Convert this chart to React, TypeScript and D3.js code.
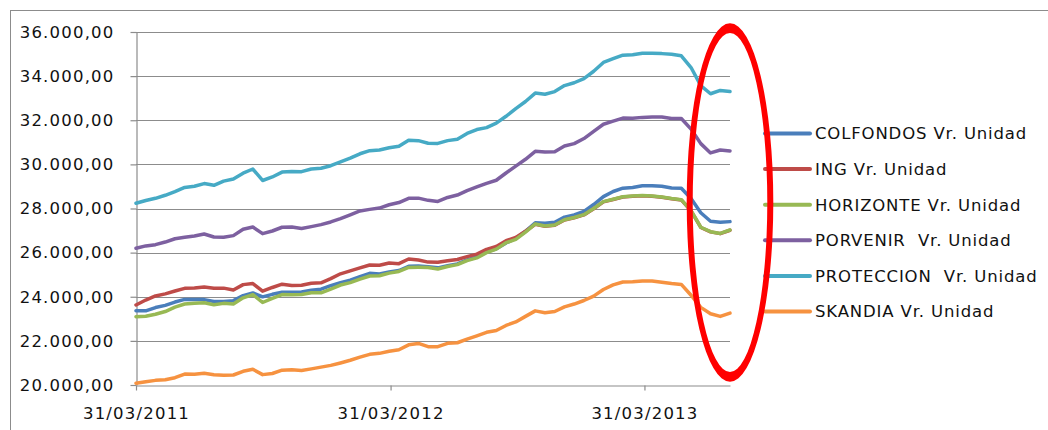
import { useEffect, useRef } from "react"
import * as d3 from "d3"

// one reading every 14 days starting 31/03/2011
const firstDate = "2011-03-31"
const stepDays = 14

const tickLabels = ["31/03/2011", "31/03/2012", "31/03/2013"]
const yTicks = [20000, 22000, 24000, 26000, 28000, 30000, 32000, 34000, 36000]

const seriesNames = [
    "COLFONDOS Vr. Unidad",
    "ING Vr. Unidad",
    "HORIZONTE Vr. Unidad",
    "PORVENIR  Vr. Unidad",
    "PROTECCION  Vr. Unidad",
    "SKANDIA Vr. Unidad",
]
const colors = ["#4a7ebb", "#be4b48", "#98b954", "#7d60a0", "#46aac5", "#f69240"]

const colfondos = [
    23370, 23360, 23510, 23610, 23760, 23880, 23870, 23870, 23785, 23790,
    23823, 24050, 24170, 23995, 24110, 24200, 24205, 24220, 24300, 24345,
    24500, 24640, 24750, 24910, 25060, 25030, 25120, 25190, 25380, 25394,
    25360, 25310, 25410, 25490, 25670, 25800, 26040, 26170, 26440, 26640,
    26970, 27350, 27328, 27380, 27610, 27710, 27870, 28180, 28540, 28770,
    28920, 28955, 29030, 29035, 29005, 28930, 28920, 28450, 27810, 27420,
    27375, 27405,
]
const ing = [
    23626, 23850, 24035, 24130, 24260, 24380, 24400, 24440, 24390, 24390,
    24306, 24550, 24600, 24250, 24420, 24570, 24510, 24520, 24609, 24630,
    24820, 25040, 25170, 25310, 25440, 25430, 25530, 25500, 25710, 25666,
    25570, 25560, 25630, 25690, 25820, 25930, 26150, 26280, 26540, 26690,
    26970, 27280, 27190, 27240, 27480, 27580, 27710, 27990, 28300, 28410,
    28520, 28560, 28580, 28555, 28510, 28440, 28390, 27890, 27140, 26940,
    26860, 27015,
]
const horizonte = [
    23098, 23120, 23205, 23330, 23530, 23670, 23700, 23732, 23640, 23700,
    23672, 23950, 24100, 23740, 23930, 24100, 24090, 24100, 24180, 24180,
    24350, 24530, 24640, 24800, 24940, 24950, 25070, 25145, 25330, 25334,
    25330, 25260, 25370, 25455, 25640, 25760, 26000, 26160, 26450, 26600,
    26930, 27300, 27207, 27250, 27490, 27590, 27720, 28000, 28310, 28420,
    28530, 28570, 28590, 28565, 28520, 28450, 28400, 27900, 27150, 26950,
    26870, 27026,
]
const porvenir = [
    26195, 26305, 26360, 26480, 26630, 26694, 26750, 26843, 26710, 26700,
    26770, 27060, 27160, 26860, 26980, 27150, 27160, 27090, 27180, 27270,
    27390, 27540, 27710, 27887, 27960, 28020, 28170, 28270, 28460, 28470,
    28370, 28320, 28500, 28610, 28810, 28980, 29140, 29280, 29610, 29920,
    30230, 30590, 30560, 30570, 30830, 30940, 31170, 31500, 31820, 31960,
    32100, 32090, 32130, 32150, 32150, 32080, 32080, 31600, 30940, 30520,
    30650, 30610,
]
const proteccion = [
    28236, 28360, 28462, 28600, 28770, 28955, 29010, 29130, 29050, 29240,
    29340, 29600, 29790, 29270, 29430, 29650, 29680, 29670, 29790, 29822,
    29940, 30110, 30280, 30480, 30620, 30650, 30750, 30820, 31090, 31076,
    30960, 30950, 31076, 31140, 31400, 31580, 31665, 31870, 32180, 32530,
    32850, 33230, 33180, 33300, 33570, 33700, 33890, 34220, 34620, 34790,
    34950, 34970, 35040, 35040, 35020, 34990, 34920, 34390, 33570, 33200,
    33350, 33300,
]
const skandia = [
    20076, 20151, 20210, 20235, 20330, 20495, 20490, 20529, 20460, 20440,
    20453, 20620, 20710, 20470, 20520, 20670, 20690, 20660, 20730, 20810,
    20890, 21000, 21120, 21260, 21390, 21435, 21530, 21600, 21820, 21885,
    21738, 21738, 21889, 21915, 22080, 22230, 22387, 22470, 22700, 22860,
    23110, 23360, 23279, 23330, 23540, 23670, 23830, 24030, 24330, 24540,
    24670, 24680, 24710, 24710, 24660, 24600, 24560, 24070, 23520, 23230,
    23110, 23260,
]

const allSeries = [colfondos, ing, horizonte, porvenir, proteccion, skandia]

// closed ellipse as svg arcs
function ellipsePath(cx: number, cy: number, rx: number, ry: number) {
    return `M${cx - rx},${cy}A${rx},${ry} 0 1 0 ${cx + rx},${cy}A${rx},${ry} 0 1 0 ${cx - rx},${cy}Z`
}

export default function App() {
    const chart = useRef<SVGSVGElement>(null)
    const width = 1048
    const height = 430
    const margin = { left: 136, right: 730, top: 32, bottom: 385 }
    const font = "'DejaVu Sans', Verdana, sans-serif"
    const gridColor = "#8c8c8c"

    useEffect(() => {
        const svg = d3.select(chart.current)
        svg.selectAll("*").remove()

        // outer chart frame (right and bottom edges fall outside the picture)
        svg.append("rect")
            .attr("x", 10.5).attr("y", 10.5)
            .attr("width", width + 20).attr("height", height + 20)
            .attr("fill", "white")
            .attr("stroke", gridColor)

        const start = d3.timeParse("%Y-%m-%d")(firstDate) as Date
        const dates = colfondos.map((_, i) => d3.timeDay.offset(start, i * stepDays))
        const parseTick = d3.timeParse("%d/%m/%Y")
        const tickDates = tickLabels.map(t => parseTick(t) as Date)

        const xScale = d3.scaleTime()
            .domain([dates[0], dates[dates.length - 1]])
            .range([margin.left, margin.right])

        const yScale = d3.scaleLinear()
            .domain([20000, 36000])
            .range([margin.bottom, margin.top])

        const locale = d3.formatLocale({ decimal: ",", thousands: ".", grouping: [3], currency: ["$", ""] })
        const fmt = locale.format(",.2f")

        // gridlines
        svg.append("g")
            .selectAll("line")
            .data(yTicks.slice(1))
            .enter().append("line")
            .attr("x1", margin.left).attr("x2", margin.right)
            .attr("y1", d => Math.round(yScale(d)) + 0.5)
            .attr("y2", d => Math.round(yScale(d)) + 0.5)
            .attr("stroke", gridColor)
            .attr("stroke-width", 1.2)

        const yAxis = svg.append("g")
            .attr("transform", `translate(${margin.left + 0.5},0)`)
            .call(d3.axisLeft(yScale).tickValues(yTicks).tickSize(6).tickSizeOuter(0).tickPadding(16).tickFormat(d => fmt(d as number)))
        yAxis.selectAll("line, path").attr("stroke", gridColor).attr("stroke-width", 1.2)
        yAxis.selectAll("text")
            .attr("font-family", font).attr("font-size", 16.5)
            .attr("letter-spacing", "1.2px").attr("fill", "#111")

        const xAxis = svg.append("g")
            .attr("transform", `translate(0,${margin.bottom + 0.5})`)
            .call(d3.axisBottom(xScale).tickValues(tickDates).tickSize(5).tickSizeOuter(0).tickPadding(17)
                .tickFormat((d, i) => tickLabels[i]))
        xAxis.selectAll("line, path").attr("stroke", gridColor).attr("stroke-width", 1.2)
        xAxis.selectAll("text")
            .attr("font-family", font).attr("font-size", 16.5)
            .attr("letter-spacing", "1.2px").attr("fill", "#111")

        const line = d3.line<number>()
            .x((d, i) => xScale(dates[i]))
            .y(d => yScale(d))

        svg.append("g")
            .selectAll("path")
            .data(allSeries)
            .enter().append("path")
            .attr("d", d => line(d))
            .attr("fill", "none")
            .attr("stroke", (d, i) => colors[i])
            .attr("stroke-width", 3.5)
            .attr("stroke-linejoin", "round")
            .attr("stroke-linecap", "round")

        // legend
        const legend = svg.append("g")
            .selectAll("g")
            .data(seriesNames)
            .enter().append("g")
            .attr("transform", (d, i) => `translate(765,${133.5 + i * 35.6})`)
        legend.append("line")
            .attr("x1", 0).attr("x2", 45)
            .attr("stroke", (d, i) => colors[i])
            .attr("stroke-width", 4)
            .attr("stroke-linecap", "round")
        legend.append("text")
            .attr("x", 50).attr("dy", "0.36em")
            .attr("font-family", font).attr("font-size", 16.5)
            .attr("letter-spacing", "0.85px").attr("fill", "#111")
            .style("white-space", "pre")
            .text(d => d)

        // red ellipse annotation around the last months
        const cx = margin.right
        const cy = 202.5
        svg.append("path")
            .attr("d", ellipsePath(cx, cy, 43.3, 179.2) + ellipsePath(cx, cy, 37.3, 169.5))
            .attr("fill", "#ff0000")
            .attr("fill-rule", "evenodd")
    }, [])

    return (
        <svg ref={chart} width={width} height={height}
            style={{ position: "absolute", left: 0, top: 0, display: "block" }}></svg>
    )
}
